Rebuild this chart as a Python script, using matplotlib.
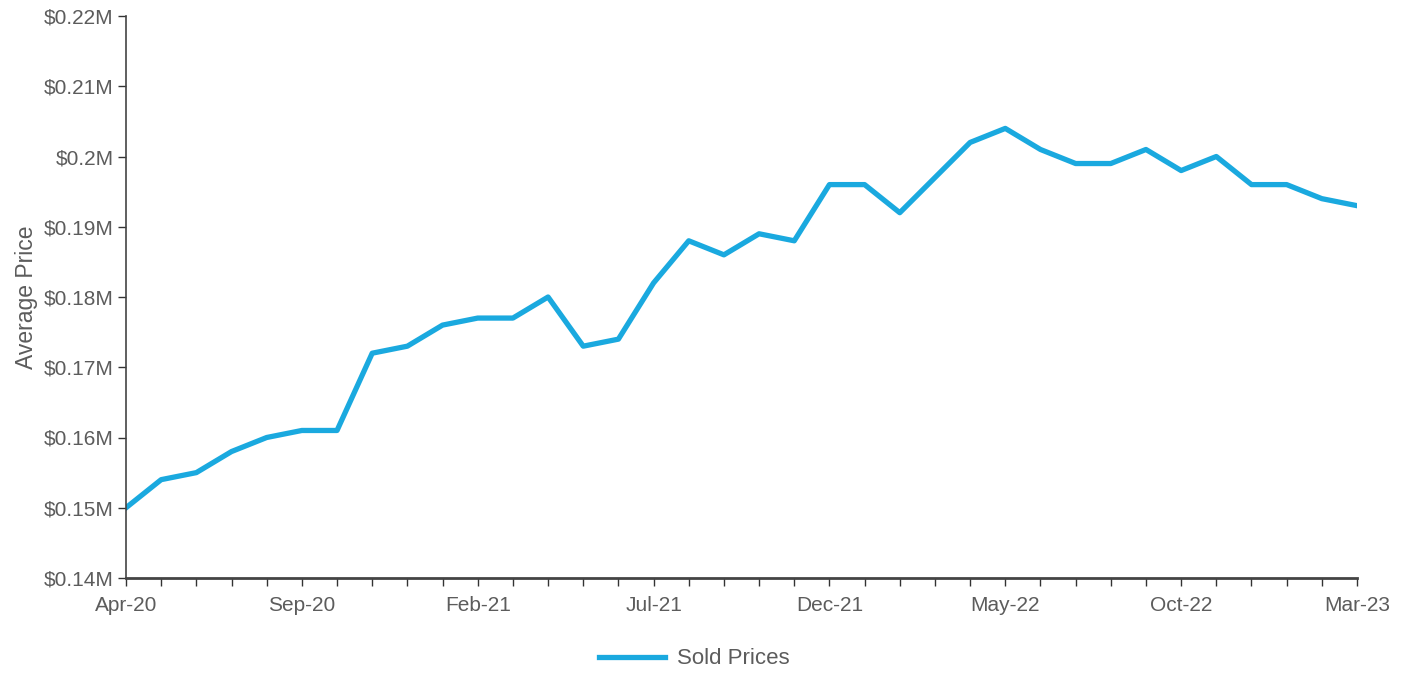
import matplotlib.pyplot as plt

plt.rcParams['font.family'] = ['Liberation Sans', 'DejaVu Sans']

months = ['Apr-20', 'May-20', 'Jun-20', 'Jul-20', 'Aug-20', 'Sep-20', 'Oct-20', 'Nov-20', 'Dec-20',
          'Jan-21', 'Feb-21', 'Mar-21', 'Apr-21', 'May-21', 'Jun-21', 'Jul-21', 'Aug-21', 'Sep-21',
          'Oct-21', 'Nov-21', 'Dec-21', 'Jan-22', 'Feb-22', 'Mar-22', 'Apr-22', 'May-22', 'Jun-22',
          'Jul-22', 'Aug-22', 'Sep-22', 'Oct-22', 'Nov-22', 'Dec-22', 'Jan-23', 'Feb-23', 'Mar-23']
prices = [0.150, 0.154, 0.155, 0.158, 0.160, 0.161, 0.161, 0.172, 0.173,
          0.176, 0.177, 0.177, 0.180, 0.173, 0.174, 0.182, 0.188, 0.186,
          0.189, 0.188, 0.196, 0.196, 0.192, 0.197, 0.202, 0.204, 0.201,
          0.199, 0.199, 0.201, 0.198, 0.200, 0.196, 0.196, 0.194, 0.193]
y_ticks = [0.14, 0.15, 0.16, 0.17, 0.18, 0.19, 0.20, 0.21, 0.22]
y_labels = ['$0.14M', '$0.15M', '$0.16M', '$0.17M', '$0.18M', '$0.19M', '$0.2M', '$0.21M', '$0.22M']

grey = '#5c5c5c'
fig = plt.figure(figsize=(14.09, 6.73), dpi=100)
ax = fig.add_axes([126 / 1409, 1 - 578 / 673, (1357 - 126) / 1409, (578 - 16) / 673])

x = list(range(len(months)))
ax.plot(x, prices, color='#1aa9df', lw=3.8, label='Sold Prices', solid_joinstyle='round')

ax.set_xlim(0, len(months) - 1)
ax.set_ylim(0.14, 0.22)
ax.set_xticks(x)
ax.set_xticklabels([m if i % 5 == 0 else '' for i, m in enumerate(months)])
ax.set_yticks(y_ticks)
ax.set_yticklabels(y_labels)
ax.tick_params(colors='#333333', labelcolor=grey, labelsize=15, length=6, width=1)
ax.tick_params(axis='x', pad=7)
ax.tick_params(axis='y', pad=3)
ax.set_ylabel('Average Price', color=grey, fontsize=16.5)
ax.yaxis.set_label_coords(-88 / 1231, 0.5)

for s in ['top', 'right']:
    ax.spines[s].set_visible(False)
for s in ['left', 'bottom']:
    ax.spines[s].set_color('#444444')
    ax.spines[s].set_linewidth(1.2)
ax.spines['bottom'].set_linewidth(2)

fig.legend(loc='center', bbox_to_anchor=(694 / 1409, 1 - 659 / 673), frameon=False,
           fontsize=16, handlelength=3.0, handletextpad=0.5, labelcolor=grey)

fig.savefig('out.png', dpi=100)
